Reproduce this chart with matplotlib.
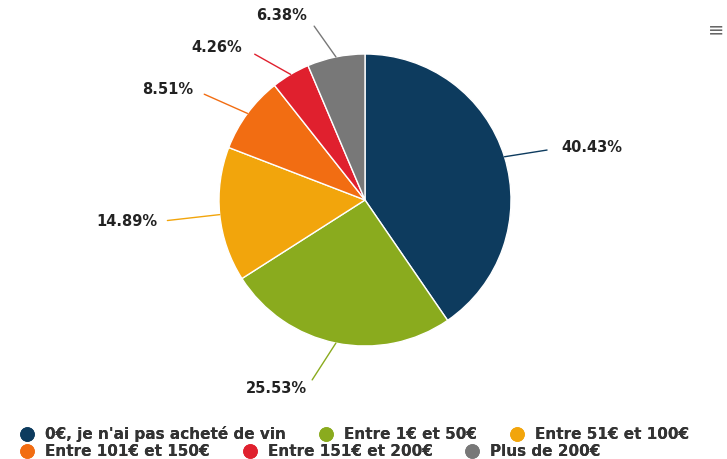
import numpy as np
import matplotlib.pyplot as plt
from matplotlib.lines import Line2D

labels = ["0€, je n'ai pas acheté de vin", "Entre 1€ et 50€", "Entre 51€ et 100€",
          "Entre 101€ et 150€", "Entre 151€ et 200€", "Plus de 200€"]
values = [40.43, 25.53, 14.89, 8.51, 4.26, 6.38]
colors = ["#0d3b5e", "#8aab1e", "#f2a50c", "#f26d12", "#e0202e", "#787878"]

# label offsets in pixels from the wedge edge, alignment and connector gap
offsets = [(57, 9), (-29, -45), (-62, -7), (-54, 24), (-48, 27), (-29, 41)]
aligns = ["left", "right", "right", "right", "right", "right"]
gaps = [10.5, 7, 7, 8.5, 10, 9]

W, H = 727, 459
fig = plt.figure(figsize=(W / 100, H / 100), dpi=100)
cx, cy, r = 365, 200, 146
ax = fig.add_axes([(cx - r) / W, (H - cy - r) / H, 2 * r / W, 2 * r / H])

wedges, _ = ax.pie(values, colors=colors, startangle=90, counterclock=False,
                   radius=1, wedgeprops=dict(edgecolor="white", linewidth=1))
ax.set_xlim(-1, 1)
ax.set_ylim(-1, 1)
ax.axis("off")

for w, v, off, ha, g in zip(wedges, values, offsets, aligns, gaps):
    mid = np.deg2rad((w.theta1 + w.theta2) / 2)
    x, y = np.cos(mid), np.sin(mid)
    ax.annotate("%.2f%%" % v, xy=(x, y), xytext=off, textcoords="offset pixels",
                ha=ha, va="center", fontsize=10.5, fontweight="bold", color="#222222",
                arrowprops=dict(arrowstyle="-", color=w.get_facecolor(), lw=1,
                                patchA=None, shrinkA=g, shrinkB=0,
                                relpos=(0, 0.5) if ha == "left" else (1, 0.5)),
                annotation_clip=False)

handles = [Line2D([], [], marker="o", linestyle="", markersize=9.5,
                  markerfacecolor=c, markeredgecolor=c) for c in colors]
for row in range(2):
    leg = fig.legend(handles[row * 3:row * 3 + 3], labels[row * 3:row * 3 + 3],
                     ncol=3, loc="center left",
                     bbox_to_anchor=(19.5 / W, 1 - (434 + row * 18) / H),
                     frameon=False, handletextpad=0.68, columnspacing=2.1,
                     handlelength=1.0, borderpad=0, borderaxespad=0,
                     prop=dict(size=11, weight="bold"))
    for t in leg.get_texts():
        t.set_color("#333333")
    fig.add_artist(leg)

fig.text(716 / W, 1 - 30 / H, "≡", fontsize=14, color="#666666",
         ha="center", va="center")

fig.savefig("out.png", dpi=100)
